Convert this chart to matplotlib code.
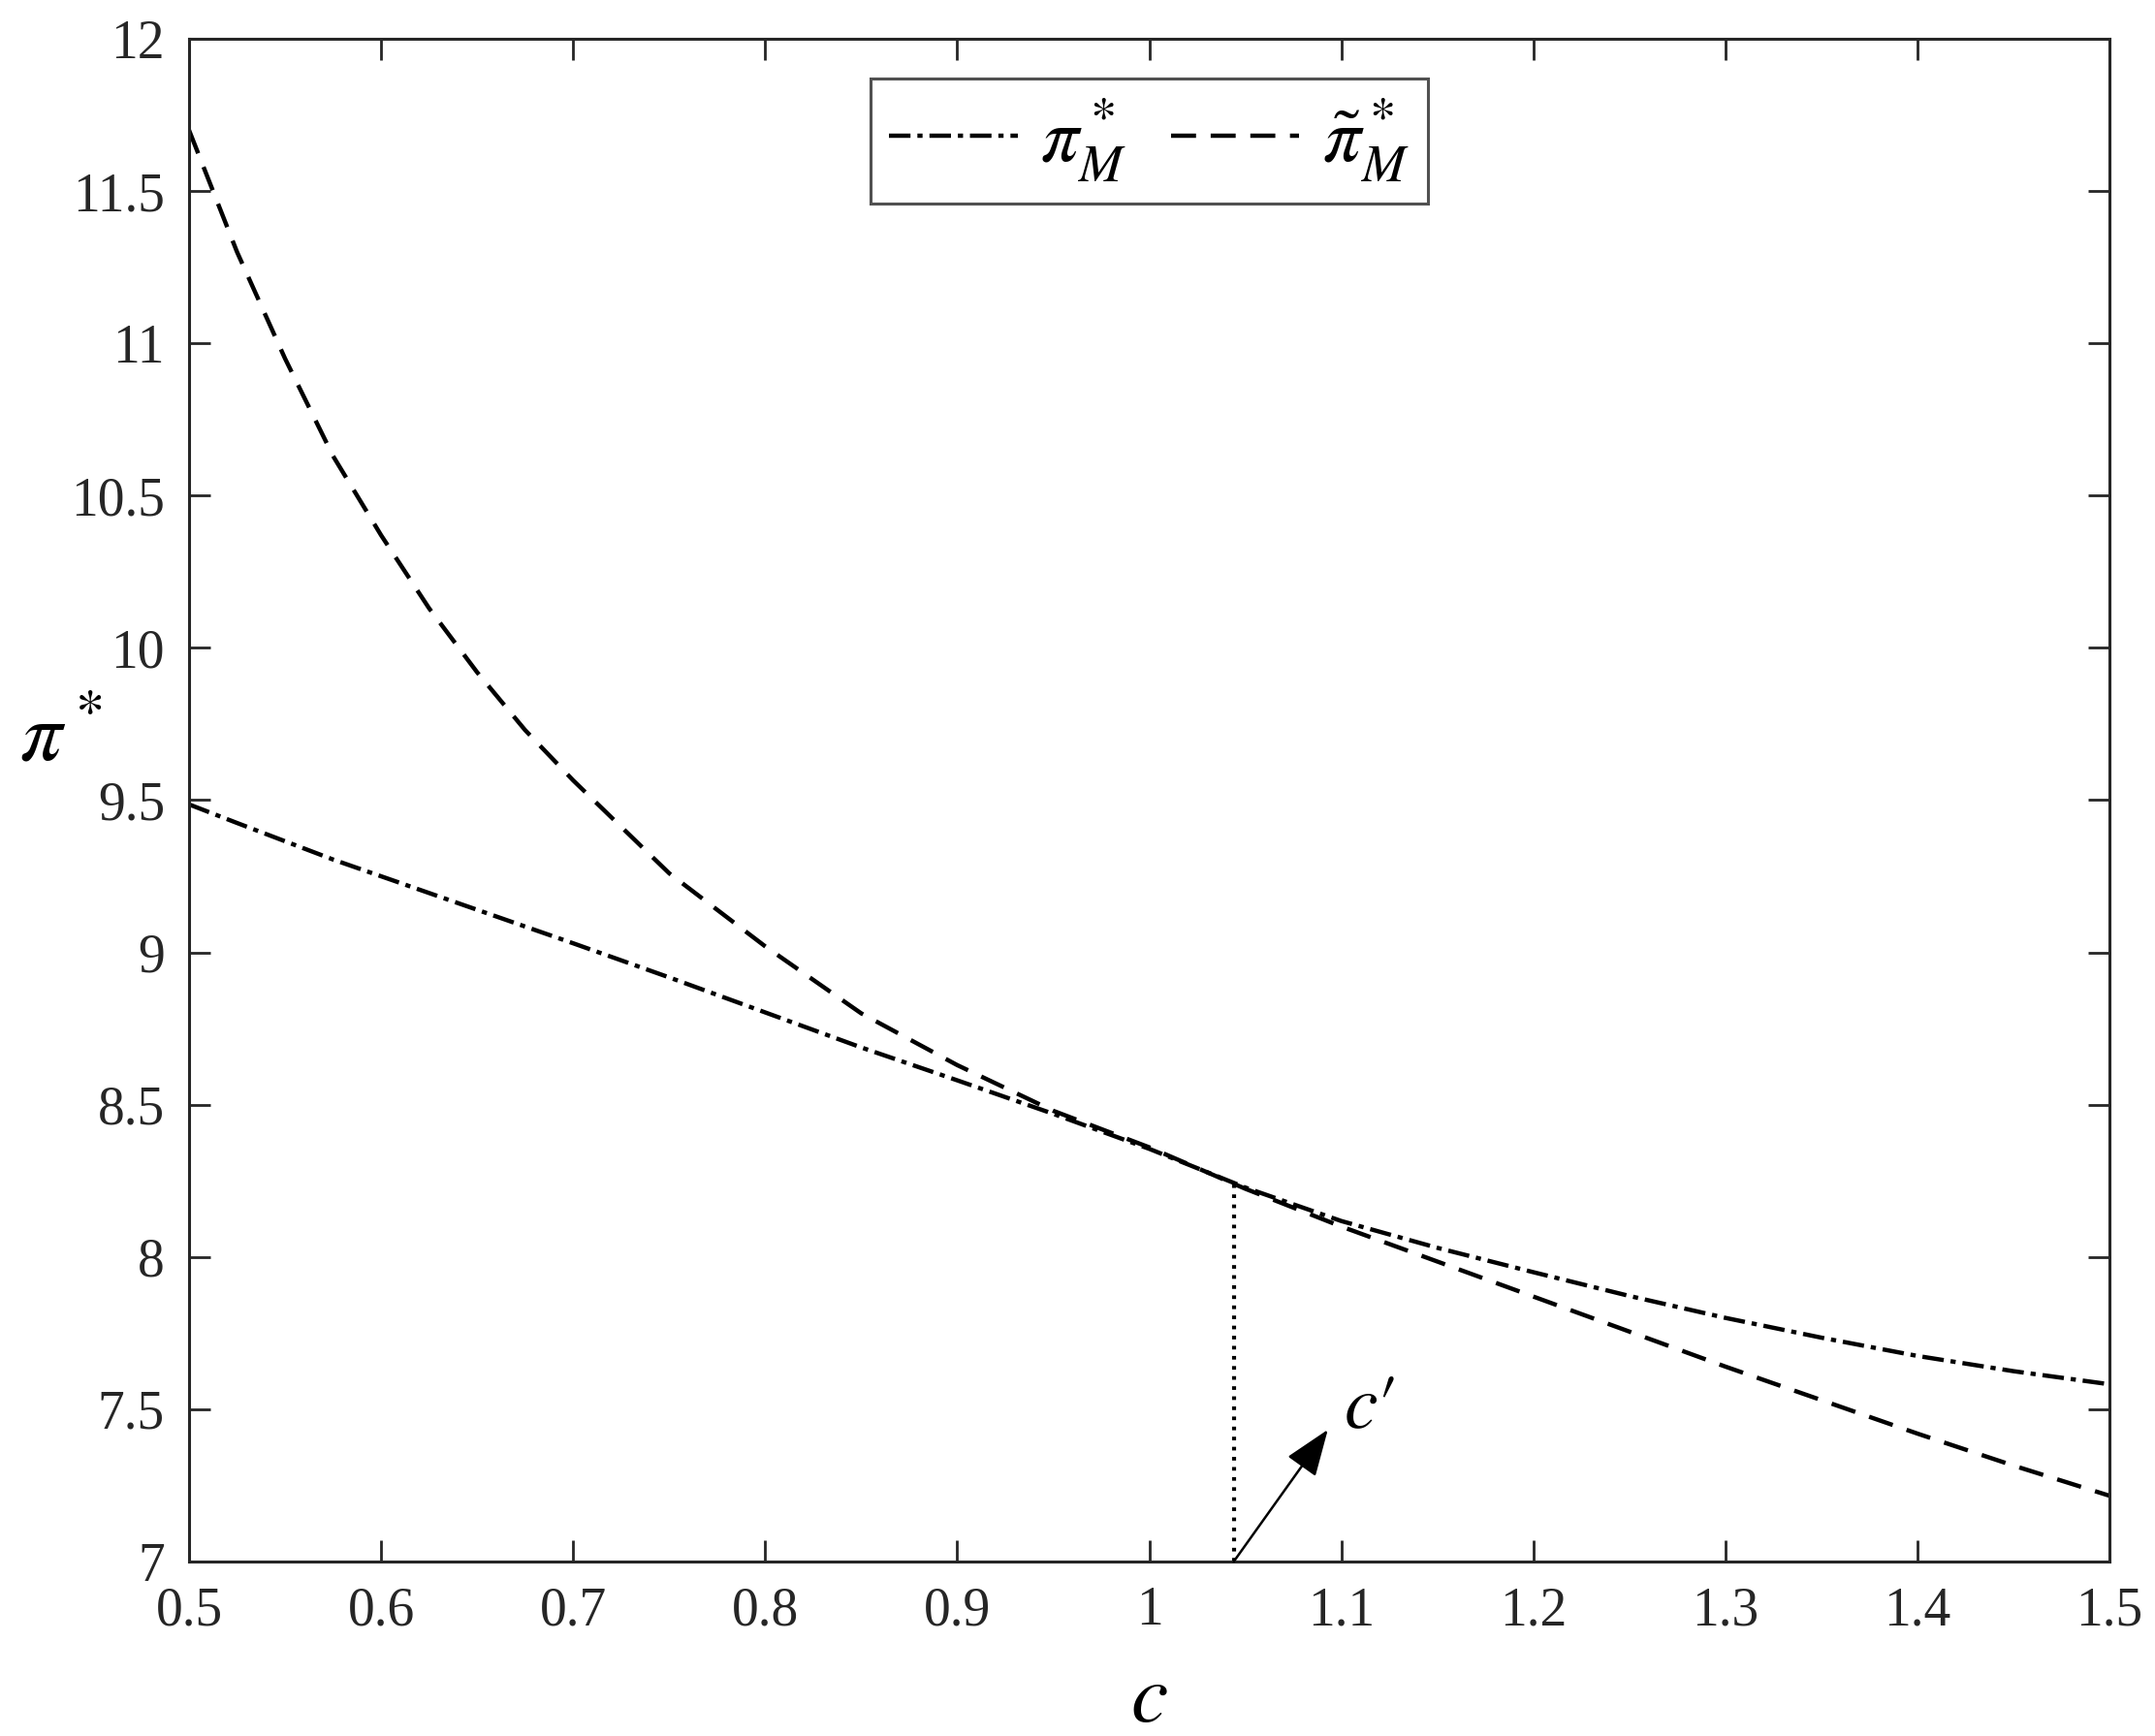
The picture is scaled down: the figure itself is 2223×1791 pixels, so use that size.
import numpy as np
import matplotlib
matplotlib.use("Agg")
import matplotlib.pyplot as plt

plt.rcParams['font.family'] = ['Liberation Serif', 'DejaVu Serif']
plt.rcParams['mathtext.fontset'] = 'stix'

# data
c = [0.5, 0.525, 0.55, 0.575, 0.6, 0.625, 0.65, 0.675, 0.7, 0.75, 0.8, 0.85, 0.9,
     0.95, 1.0, 1.05, 1.1, 1.15, 1.2, 1.25, 1.3, 1.35, 1.4, 1.45, 1.5]
pi_M = [9.486, 9.425, 9.365, 9.305, 9.25, 9.195, 9.14, 9.085, 9.03, 8.918, 8.803, 8.688,
        8.58, 8.47, 8.355, 8.228, 8.118, 8.03, 7.95, 7.872, 7.8, 7.735, 7.675, 7.625, 7.582]
pi_M_tilde = [11.70, 11.30, 10.95, 10.63, 10.37, 10.13, 9.92, 9.73, 9.565, 9.26, 9.02, 8.80,
              8.63, 8.48, 8.36, 8.224, 8.10, 7.985, 7.87, 7.755, 7.64, 7.53, 7.42, 7.315, 7.216]
c_prime = 1.044
pi_c_prime = 8.238

fig = plt.figure(figsize=(11.115, 8.955), dpi=200)
ax = fig.add_axes([0.0877, 0.1005, 0.8912, 0.8772])

ax.plot(c, pi_M, color='black', lw=1.6, linestyle=(0, (5.0, 1.6, 1.2, 1.6)), label=r'$\pi^*_M$')
ax.plot(c, pi_M_tilde, color='black', lw=1.6, linestyle=(0, (5.8, 3.4)), label=r'$\tilde{\pi}^*_M$')

# vertical dotted line at c'
ax.plot([c_prime, c_prime], [7, pi_c_prime], color='black', lw=1.5, linestyle=(0, (0.9, 1.6)))

ax.annotate('', xy=(c_prime + 0.049, 7.433), xytext=(c_prime, 7.0),
            arrowprops=dict(arrowstyle='-|>,head_length=0.75,head_width=0.28',
                            mutation_scale=20, lw=0.9, color='black',
                            shrinkA=0, shrinkB=0))
ax.text(c_prime + 0.057, 7.44, r"$c\prime$", fontsize=28, ha='left', va='baseline')

ax.set_xlim(0.5, 1.5)
ax.set_ylim(7, 12)
ax.set_xticks(np.arange(0.5, 1.51, 0.1))
ax.set_xticklabels(['0.5', '0.6', '0.7', '0.8', '0.9', '1', '1.1', '1.2', '1.3', '1.4', '1.5'])
ax.set_yticks(np.arange(7, 12.01, 0.5))
ax.set_yticklabels(['7', '7.5', '8', '8.5', '9', '9.5', '10', '10.5', '11', '11.5', '12'])

ax.tick_params(direction='in', length=8, width=1.0, top=True, right=True,
               labelsize=20, colors='#262626', pad=9)
for s in ax.spines.values():
    s.set_linewidth(1.1)
    s.set_color('#262626')

ax.set_xlabel(r'$c$', fontsize=31, va='center')
ax.xaxis.set_label_coords(0.5, -0.092)
ax.set_ylabel(r'$\pi^*$', fontsize=31, rotation=0, ha='center', va='center')
ax.yaxis.set_label_coords(-0.067, 0.539)

leg = ax.legend(loc='upper center', ncol=2, fontsize=28, frameon=True, fancybox=False,
                handlelength=1.7, handletextpad=0.3, columnspacing=0.6,
                borderpad=0.25, borderaxespad=0, bbox_to_anchor=(0.5, 0.974))
leg.get_frame().set_edgecolor('#262626')
leg.get_frame().set_linewidth(1.1)

fig.savefig('out.png', dpi=200)
